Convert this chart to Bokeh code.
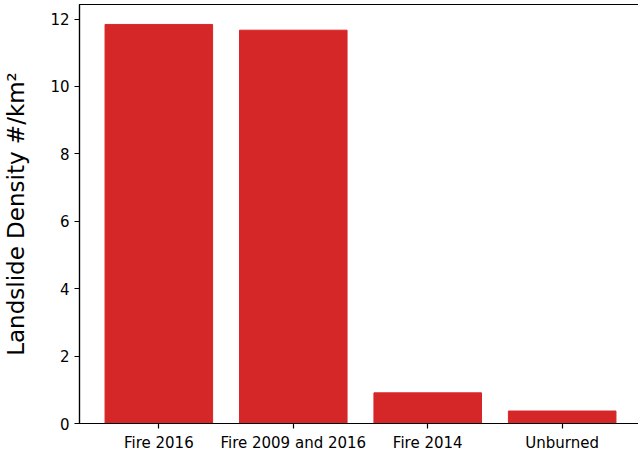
from bokeh.plotting import figure
from bokeh.models import Range1d, FixedTicker, ColumnDataSource
from bokeh.embed import file_html
from bokeh.resources import INLINE

categories = ["Fire 2016", "Fire 2009 and 2016", "Fire 2014", "Unburned"]
density = [11.84, 11.67, 0.91, 0.37]
y_ticks = [0, 2, 4, 6, 8, 10, 12]

xpos = list(range(len(categories)))
src = ColumnDataSource(dict(x=xpos, top=density))

ymax = max(density) * 1.05
p = figure(width=642, height=455, output_backend="svg", toolbar_location=None,
           x_range=Range1d(-0.59, len(categories) - 1 + 0.59),
           y_range=Range1d(0, ymax),
           min_border_left=79, min_border_right=1, min_border_top=4, min_border_bottom=32)

p.vbar(x="x", top="top", width=0.8, source=src, fill_color="#d62728", line_color="#d62728")

p.xgrid.visible = False
p.ygrid.visible = False
p.outline_line_color = "black"
p.outline_line_width = 1.2

p.xaxis.ticker = FixedTicker(ticks=xpos)
p.xaxis.major_label_overrides = {i: c for i, c in zip(xpos, categories)}
p.yaxis.ticker = FixedTicker(ticks=y_ticks)
p.yaxis.axis_label = "Landslide Density #/km²"

for ax in (p.xaxis, p.yaxis):
    ax.major_label_text_font = "DejaVu Sans"
    ax.major_label_text_font_size = "15px"
    ax.major_label_text_color = "black"
    ax.major_tick_out = 5
    ax.major_tick_in = 0
    ax.minor_tick_line_color = None
    ax.axis_line_color = "black"
    ax.axis_line_width = 1.2
    ax.major_tick_line_color = "black"
    ax.major_tick_line_width = 1.2

p.yaxis.axis_label_text_font = "DejaVu Sans"
p.yaxis.axis_label_text_font_size = "23px"
p.yaxis.axis_label_text_font_style = "normal"
p.yaxis.axis_label_text_color = "black"
p.yaxis.axis_label_standoff = 18
p.xaxis.major_label_standoff = 5

open("out.html", "w").write(file_html(p, INLINE))
